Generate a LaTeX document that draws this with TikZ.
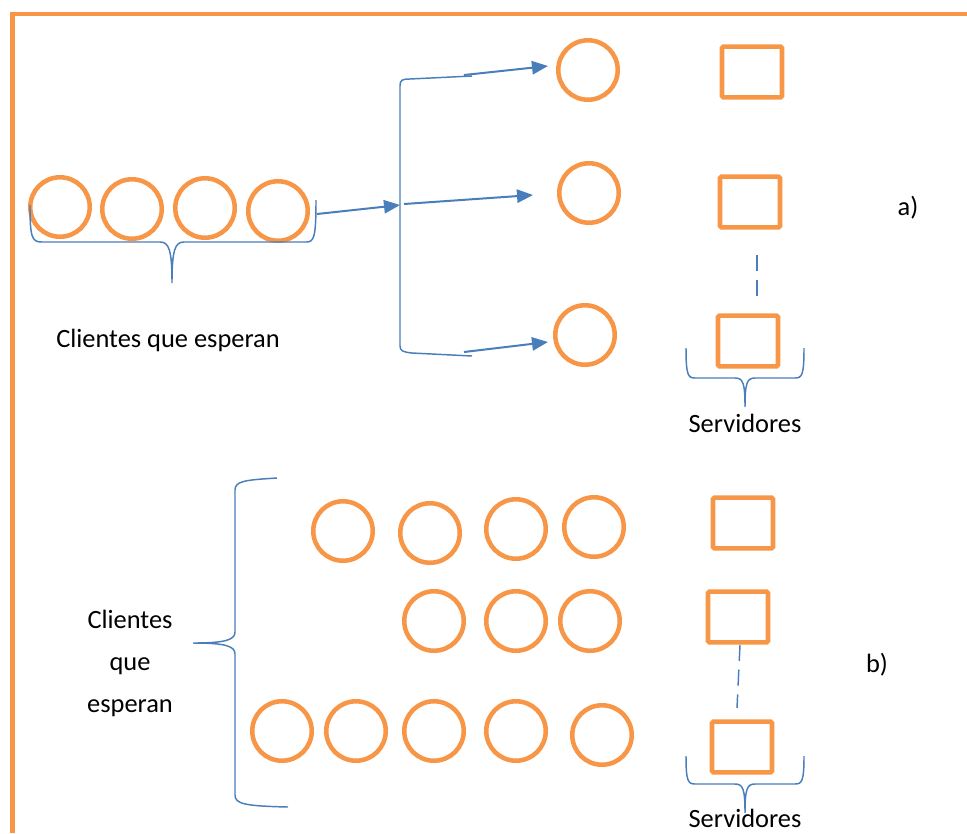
\documentclass[tikz,border=0pt]{standalone}
\usepackage{fontspec}
\setmainfont{Carlito}
\usetikzlibrary{arrows.meta}
\definecolor{naranja}{RGB}{247,150,70}
\definecolor{azul}{RGB}{74,126,187}

\begin{document}
\begin{tikzpicture}[x=0.75pt,y=0.75pt]
	\tikzstyle{every node}+=[inner sep=0pt]
	\tikzstyle{cliente}=[draw=naranja,line width=3.4pt,circle,minimum size=44.6pt]
	\tikzstyle{servidor}=[draw=naranja,line width=3.4pt,rectangle,rounded corners=1pt,minimum width=45pt,minimum height=38pt]
	\tikzstyle{llave}=[azul,line width=1.1pt]
	\tikzstyle{flecha}=[azul,line width=1.5pt,-{Triangle[length=12pt,width=10pt]}]
	\tikzstyle{punteado}=[azul,line width=1.1pt,dash pattern=on 12pt off 6.5pt]
	\tikzstyle{etiqueta}=[font=\fontsize{19.8}{31.5}\selectfont]
	\useasboundingbox (0,0) rectangle (967,-833);
	\draw [naranja,line width=3.6pt] (12.5,-833) -- (12.5,-14) -- (967,-14);
	% a)
	\node [cliente] (a1) at (60,-207) {};
	\node [cliente] (a2) at (132,-209) {};
	\node [cliente] (a3) at (205,-208) {};
	\node [cliente] (a4) at (278,-211) {};
	\draw [llave] (30,-205) .. controls (30,-238) and (32,-242) .. (42,-242) -- (160,-242) .. controls (169,-242) and (172,-250) .. (172,-283) .. controls (172,-250) and (175,-242) .. (184,-242) -- (306,-242) .. controls (314,-242) and (316,-238) .. (316,-200);
	\node [etiqueta,anchor=base] (espera) at (168,-347) {Clientes que esperan};
	\draw [llave] (472,-76) -- (410,-79) .. controls (402,-79) and (400,-80) .. (400,-86) -- (400,-346) .. controls (400,-351) and (403,-352) .. (412,-353) -- (472,-356);
	\coordinate (e0) at (317,-214);
	\coordinate (b0) at (400,-205);
	\coordinate (b1) at (464,-75);
	\coordinate (b2) at (404,-204);
	\coordinate (b3) at (464,-352);
	\coordinate (t1) at (548,-66);
	\coordinate (t2) at (533,-195);
	\coordinate (t3) at (548,-342);
	\draw [flecha] (e0) -- (b0);
	\draw [flecha] (b1) -- (t1);
	\draw [flecha] (b2) -- (t2);
	\draw [flecha] (b3) -- (t3);
	\node [cliente] (q1) at (588,-70) {};
	\node [cliente] (q2) at (589,-193) {};
	\node [cliente] (q3) at (585,-335) {};
	\node [servidor] (s1) at (752,-72) {};
	\node [servidor] (s2) at (750,-202) {};
	\node [servidor] (s3) at (748,-341) {};
	\coordinate (d1) at (757,-255);
	\coordinate (d2) at (757,-303);
	\draw [punteado] (d1) -- (d2);
	\draw [llave] (686,-348) .. controls (686,-375) and (688,-378) .. (695,-378) -- (735,-378) .. controls (743,-378) and (745,-383) .. (745,-407) .. controls (745,-383) and (747,-378) .. (755,-378) -- (795,-378) .. controls (802,-378) and (804,-375) .. (804,-348);
	\node [etiqueta,anchor=base] (serv1) at (745,-432) {Servidores};
	\node [etiqueta,anchor=base] (marca1) at (908,-215) {a)};
	% b)
	\draw [llave] (277,-478) .. controls (245,-480) and (235,-481) .. (235,-490) -- (235,-632) .. controls (235,-640) and (225,-643) .. (193,-643) .. controls (225,-643) and (235,-646) .. (235,-654) -- (235,-795) .. controls (235,-804) and (245,-806) .. (288,-807);
	\node [etiqueta,align=center] (espera2) at (130,-663) {Clientes\\que\\esperan};
	\node [cliente] (f11) at (343,-531) {};
	\node [cliente] (f12) at (430,-533) {};
	\node [cliente] (f13) at (516,-529) {};
	\node [cliente] (f14) at (594,-527) {};
	\node [cliente] (f21) at (434,-621) {};
	\node [cliente] (f22) at (516,-621) {};
	\node [cliente] (f23) at (590,-621) {};
	\node [cliente] (f31) at (282,-731) {};
	\node [cliente] (f32) at (356,-731) {};
	\node [cliente] (f33) at (434,-731) {};
	\node [cliente] (f34) at (516,-731) {};
	\node [cliente] (f35) at (602,-735) {};
	\node [servidor] (r1) at (743,-523) {};
	\node [servidor] (r2) at (738,-617) {};
	\node [servidor] (r3) at (742,-747) {};
	\coordinate (d3) at (740,-645);
	\coordinate (d4) at (737,-708);
	\draw [punteado] (d3) -- (d4);
	\draw [llave] (686,-756) .. controls (686,-781) and (688,-784) .. (695,-784) -- (735,-784) .. controls (743,-784) and (745,-789) .. (745,-813) .. controls (745,-789) and (747,-784) .. (755,-784) -- (795,-784) .. controls (802,-784) and (804,-781) .. (804,-756);
	\node [etiqueta,anchor=base] (serv2) at (745,-827) {Servidores};
	\node [etiqueta,anchor=base] (marca2) at (877,-672) {b)};
\end{tikzpicture}
\end{document}
